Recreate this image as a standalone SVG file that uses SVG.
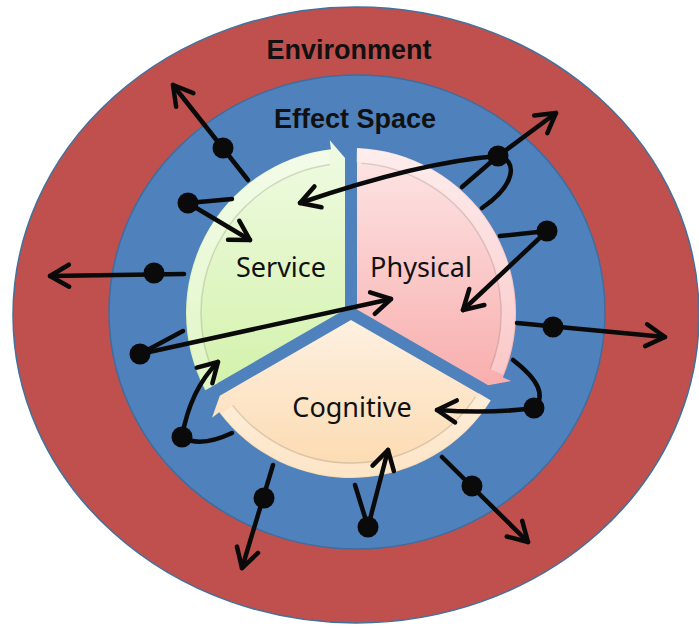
<svg xmlns="http://www.w3.org/2000/svg" width="699" height="628" viewBox="0 0 699 628">
<defs>
<style>
.ttl{font-family:"Liberation Sans",Arial,sans-serif;font-weight:bold;font-size:27px;fill:#111;text-anchor:middle}
.lbl{font-family:"Noto Sans","Open Sans",sans-serif;font-size:27px;fill:#111;text-anchor:middle}
.con{fill:none;stroke:#0a0a0a;stroke-width:4.5;stroke-linecap:round}
.arr{marker-end:url(#ah)}
.dot{fill:#0a0a0a}
.rim{fill:none;stroke:#fff;stroke-opacity:0.3;stroke-width:13}
.inl{fill:none;stroke:#8a8a8a;stroke-opacity:0.3;stroke-width:1.3}
</style>
<linearGradient id="gGreen" x1="0" y1="0" x2="0" y2="1"><stop offset="0" stop-color="#f0fbe3"/><stop offset="1" stop-color="#d3f2ab"/></linearGradient>
<linearGradient id="gPink" x1="0" y1="0" x2="0" y2="1"><stop offset="0" stop-color="#fde6e6"/><stop offset="1" stop-color="#f9aeae"/></linearGradient>
<linearGradient id="gOrange" x1="0" y1="0" x2="0" y2="1"><stop offset="0" stop-color="#fef0e1"/><stop offset="1" stop-color="#fcdaae"/></linearGradient>
<marker id="ah" viewBox="-25 -15 30 30" refX="0" refY="0" markerWidth="30" markerHeight="30" orient="auto" markerUnits="userSpaceOnUse" overflow="visible">
<path d="M-19,-11 L0,0 L-19,11" fill="none" stroke="#0a0a0a" stroke-width="4.5" stroke-linecap="round" stroke-linejoin="round"/>
</marker>
</defs>

<g id="environment">
<ellipse cx="356" cy="315" rx="343" ry="308" fill="#c0504d" stroke="#41719c" stroke-width="1.5"/>
<text class="ttl" x="349" y="59">Environment</text>
</g>

<g id="effect-space">
<ellipse cx="357" cy="312" rx="248" ry="237" fill="#4f81bd" stroke="#3f6d9e" stroke-width="1.5"/>
<text class="ttl" x="355" y="128">Effect Space</text>
</g>

<g id="service">
<path d="M345,309.5 L205.2,390.2 A165,165 0 0 1 330.9,149.2 L329.8,140.3 L345,158 Z" fill="url(#gGreen)"/>
<path class="rim" d="M211.9,386.9 A157.5,157.5 0 0 1 329.1,157"/>
<path class="inl" d="M215.1,376.4 A150,150 0 0 1 330.1,164.5"/>
<text class="lbl" x="281" y="277">Service</text>
</g>

<g id="physical">
<path d="M357,309.5 L357,148.1 A165,165 0 0 1 502.9,377.5 L511.2,381 L488.2,385.3 Z" fill="url(#gPink)"/>
<path class="rim" d="M356.5,155.6 A157.5,157.5 0 0 1 497,372"/>
<path class="inl" d="M361.5,163.4 A150,150 0 0 1 490.1,369.2"/>
<text class="lbl" x="421" y="277">Physical</text>
</g>

<g id="cognitive">
<path d="M351,319.9 L490.8,400.6 A165,165 0 0 1 219.2,412.3 L212,417.7 L219.8,395.7 Z" fill="url(#gOrange)"/>
<path class="rim" d="M484.6,396.5 A157.5,157.5 0 0 1 226.9,410"/>
<path class="inl" d="M475.4,396.9 A150,150 0 0 1 232.8,405.3"/>
<text class="lbl" x="352" y="417">Cognitive</text>
</g>

<g id="connectors">
<path class="con arr" d="M248,180 L173,85"/>
<path class="con" d="M188,203 L232,199"/>
<path class="con arr" d="M188,203 L250,240"/>
<path class="con arr" d="M184,274 L50,276"/>
<path class="con" d="M140,354 L183,331"/>
<path class="con arr" d="M140,354 L391,299"/>
<path class="con arr" d="M182,437 Q190,390 218,362"/>
<path class="con" d="M182,437 Q200,448 232,433"/>
<path class="con arr" d="M273,465 L242,568"/>
<path class="con" d="M368,527 L355,485"/>
<path class="con arr" d="M368,527 L388,450"/>
<path class="con arr" d="M442,457 L528,542"/>
<path class="con" d="M513,360 Q552,390 534,408"/>
<path class="con arr" d="M534,408 Q490,414 437,410"/>
<path class="con arr" d="M517,323 L665,337"/>
<path class="con" d="M547,231 L500,236"/>
<path class="con arr" d="M547,231 L463,310"/>
<path class="con arr" d="M498,156 L556,113"/>
<path class="con arr" d="M498,156 Q420,162 300,203"/>
<path class="con" d="M498,156 L462,187"/>
<path class="con" d="M498,156 C518,160 516,185 482,208"/>
<circle class="dot" cx="223" cy="148" r="10.5"/>
<circle class="dot" cx="188" cy="203" r="10.5"/>
<circle class="dot" cx="154" cy="273" r="10.5"/>
<circle class="dot" cx="140" cy="354" r="10.5"/>
<circle class="dot" cx="182" cy="437" r="10.5"/>
<circle class="dot" cx="264" cy="498" r="10.5"/>
<circle class="dot" cx="368" cy="527" r="10.5"/>
<circle class="dot" cx="472" cy="486" r="10.5"/>
<circle class="dot" cx="534" cy="408" r="10.5"/>
<circle class="dot" cx="553" cy="327" r="10.5"/>
<circle class="dot" cx="547" cy="231" r="10.5"/>
<circle class="dot" cx="498" cy="156" r="10.5"/>
</g>
</svg>
